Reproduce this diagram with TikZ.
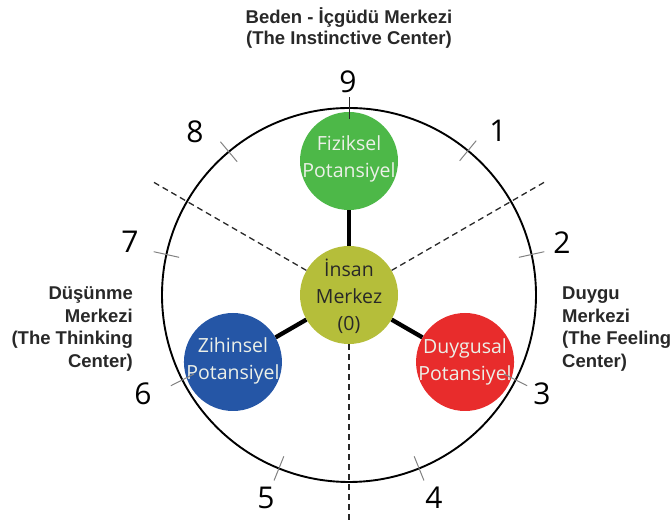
\documentclass[tikz,border=0pt]{standalone}
\usepackage{fontspec}
\setmainfont{Liberation Sans}
\newfontfamily\osf{Open Sans}
\usetikzlibrary{calc}
\definecolor{cgreen}{RGB}{77,184,72}
\definecolor{cyel}{RGB}{181,190,58}
\definecolor{cblue}{RGB}{37,86,166}
\definecolor{cred}{RGB}{232,44,44}
\definecolor{cdark}{RGB}{40,40,40}
\definecolor{ctick}{RGB}{130,130,130}
\definecolor{cwtext}{RGB}{236,240,232}
\begin{document}
\begin{tikzpicture}[x=1pt,y=1pt,
  pot/.style={circle,minimum size=98pt,inner sep=0pt,draw=none},
  pottext/.style={font=\osf\fontsize{19.5}{27}\selectfont,align=center,inner sep=0pt},
  num/.style={font=\osf\fontsize{30}{30}\selectfont,inner sep=0pt,text=black},
  lbl/.style={font=\bfseries\fontsize{18.5}{22.5}\selectfont,inner sep=0pt,text=cdark},
  spoke/.style={line width=4.3pt,black},
  dash line/.style={line width=1.3pt,cdark,dash pattern=on 6pt off 4pt},
  tickmark/.style={line width=1pt,ctick},
  rim/.style={line width=1.9pt,black}]
\useasboundingbox (0,0) rectangle (670,522);
\coordinate (O) at (349,227);
% circles
\node[pot,fill=cyel] (C) at (O) {};
\node[pot,fill=cgreen] (G) at ($(O)+(90:134pt)$) {};
\node[pot,fill=cblue] (B) at ($(O)+(210:134pt)$) {};
\node[pot,fill=cred] (R) at ($(O)+(330:134pt)$) {};
% texts in circles
\node[pottext,text=cdark] (Ct) at ($(C)+(0,-1)$) {İnsan\\Merkez\\(0)};
\node[pottext,text=cwtext] (Gt) at ($(G)+(0,2)$) {Fiziksel\\Potansiyel};
\node[pottext,text=cwtext] (Bt) at ($(B)+(0,1)$) {Zihinsel\\Potansiyel};
\node[pottext,text=cwtext] (Rt) at ($(R)+(0,0)$) {Duygusal\\Potansiyel};
% spokes
\draw[spoke] (C) -- (G);
\draw[spoke] (C) -- (B);
\draw[spoke] (C) -- (R);
% dashed lines
\coordinate (d1) at ($(O)+(150:229pt)$);
\coordinate (d2) at ($(O)+(30:229pt)$);
\coordinate (d3) at ($(O)+(270:229pt)$);
\draw[dash line] (C.150) -- (d1);
\draw[dash line] (C.30) -- (d2);
\draw[dash line] (C.270) -- (d3);
% rim
\draw[rim] (O) circle (187pt);
% ticks
\foreach \a in {50.5,12.5,-27,-68,-112,-153,167.5,130}{
  \draw[tickmark] ($(O)+(\a:174pt)$) -- ($(O)+(\a:200pt)$);
}
\draw[line width=1pt,cdark] ($(O)+(90:176pt)$) -- ($(O)+(90:198pt)$);
% numbers
\node[num] (n9) at (348,440) {9};
\node[num] (n1) at (498,391) {1};
\node[num] (n2) at (562,279) {2};
\node[num] (n3) at (542,128) {3};
\node[num] (n4) at (434,24) {4};
\node[num] (n5) at (266,24) {5};
\node[num] (n6) at (143,128) {6};
\node[num] (n7) at (130,280) {7};
\node[num] (n8) at (195,390) {8};
% labels
\node[lbl,align=center,font=\bfseries\fontsize{18.5}{21}\selectfont] (top) at (349,494) {Beden - İçgüdü Merkezi\\(The Instinctive Center)};
\node[lbl,align=right,anchor=east] (left) at (133,193) {Düşünme\\Merkezi\\(The Thinking\\Center)};
\node[lbl,align=left,anchor=west] (right) at (562,193) {Duygu\\Merkezi\\(The Feeling\\Center)};
\end{tikzpicture}
\end{document}
